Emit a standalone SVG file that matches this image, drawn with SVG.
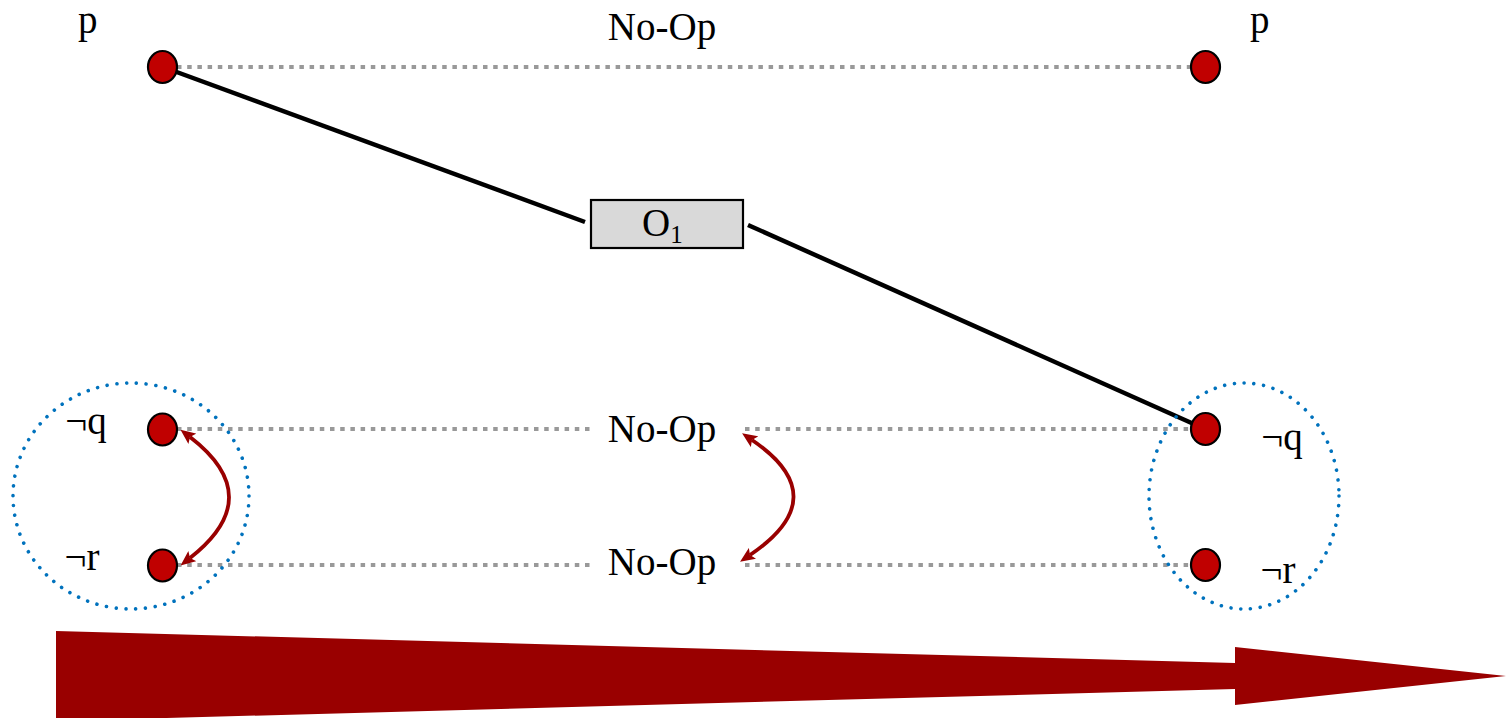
<svg xmlns="http://www.w3.org/2000/svg" width="1506" height="718" viewBox="0 0 1506 718">
<style>
.lbl{font-family:"Liberation Serif","DejaVu Serif",serif;font-size:39px;fill:#000}
.node{fill:#c00000;stroke:#000;stroke-width:2.2}
.noop{stroke:#999;stroke-width:4.2;stroke-dasharray:4.5 5.7;fill:none}
.grp{fill:none;stroke:#0072bd;stroke-width:3.6;stroke-dasharray:0.01 9.8;stroke-linecap:round}
.link{stroke:#000;stroke-width:4.5;fill:none}
.mx{stroke:#990000;stroke-width:3.8;fill:none;marker-start:url(#ah);marker-end:url(#ah)}
</style>
<defs>
<marker id="ah" markerUnits="userSpaceOnUse" viewBox="0 0 15 13" refX="3" refY="6.5" markerWidth="15" markerHeight="13" orient="auto-start-reverse">
<path d="M0,0 L15,6.5 L0,13 L3,6.5 z" fill="#990000"/>
</marker>
</defs>
<g id="connectors">
<line class="noop" x1="177" y1="67" x2="1190" y2="67"/>
<line class="noop" x1="177" y1="429" x2="591" y2="429"/>
<line class="noop" x1="745" y1="429" x2="1190" y2="429"/>
<line class="noop" x1="177" y1="565" x2="591" y2="565"/>
<line class="noop" x1="745" y1="565" x2="1190" y2="565"/>
<line class="link" x1="163" y1="67" x2="585" y2="222"/>
<line class="link" x1="748" y1="225" x2="1205" y2="429"/>
<path class="mx" d="M190 437 Q268 497 190 558"/>
<path class="mx" d="M752 440 Q836 497 750 555"/>
</g>
<g id="group-left"><ellipse class="grp" cx="131" cy="496" rx="118" ry="113"/></g>
<g id="group-right"><ellipse class="grp" cx="1244" cy="496" rx="95" ry="113"/></g>
<g id="p-left"><ellipse class="node" cx="162.5" cy="67" rx="14.5" ry="16"/><text class="lbl" x="78" y="33">p</text></g>
<g id="p-right"><ellipse class="node" cx="1205.5" cy="67" rx="14.5" ry="16"/><text class="lbl" x="1250" y="33">p</text></g>
<g id="q-left"><ellipse class="node" cx="162.5" cy="429.5" rx="14.5" ry="16"/><text class="lbl" x="86" y="434" text-anchor="middle">¬q</text></g>
<g id="r-left"><ellipse class="node" cx="162.5" cy="565.5" rx="14.5" ry="16"/><text class="lbl" x="82" y="570" text-anchor="middle">¬r</text></g>
<g id="q-right"><ellipse class="node" cx="1205.5" cy="429" rx="14.5" ry="16"/><text class="lbl" x="1282" y="450" text-anchor="middle">¬q</text></g>
<g id="r-right"><ellipse class="node" cx="1205.5" cy="565" rx="14.5" ry="16"/><text class="lbl" x="1278" y="583" text-anchor="middle">¬r</text></g>
<g id="noop-top"><text class="lbl" x="662" y="40" text-anchor="middle">No-Op</text></g>
<g id="noop-q"><text class="lbl" x="662" y="442" text-anchor="middle">No-Op</text></g>
<g id="noop-r"><text class="lbl" x="662" y="575" text-anchor="middle">No-Op</text></g>
<g id="o1"><rect x="591" y="200" width="152" height="48" fill="#d9d9d9" stroke="#000" stroke-width="2.2"/><text class="lbl" x="642" y="236">O<tspan font-size="25" dy="7">1</tspan></text></g>
<g id="time-arrow"><polygon points="56,631 1235,663 1235,647 1506,676 1235,705 1235,689 56,721" fill="#990000"/></g>
</svg>
